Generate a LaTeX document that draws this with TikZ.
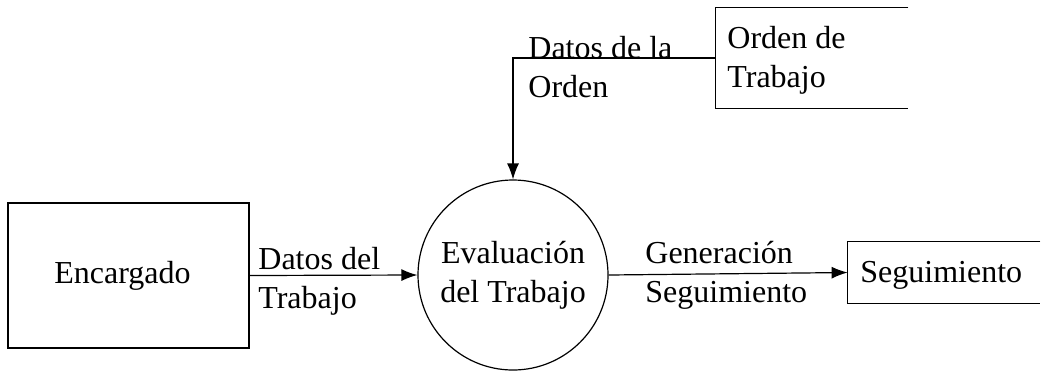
\documentclass[tikz,border=0pt]{standalone}
\usepackage{fontspec}
\setmainfont{Liberation Serif}
\usetikzlibrary{arrows.meta}

\begin{document}
\begin{tikzpicture}[x=0.5pt,y=-0.5pt]
  \tikzset{entidad/.style = {draw, line width=0.6pt, inner sep=0pt},
           texto/.style = {inner sep=0pt, align=left, font=\fontsize{16}{19.5}\selectfont},
           flujo/.style = {line width=0.6pt, -{Latex[length=8pt,width=6pt]}}}
  \useasboundingbox (0,0) rectangle (1042,371);

  \node[entidad, minimum width=120.5pt, minimum height=72.5pt] (enc) at (128.5,275.5) {};
  \node[texto, xshift=-3pt] at (enc) {Encargado};
  \node[entidad, circle, minimum size=95pt, texto, align=center] (eval) at (513,275) {Evaluación\\del Trabajo};

  % almacenes abiertos a la derecha
  \node[minimum width=96pt, minimum height=30.5pt, inner sep=0pt] (seg) at (944,272.5) {};
  \draw[line width=0.6pt] (seg.north east) -- (seg.north west) -- (seg.south west) -- (seg.south east);
  \node[texto, anchor=base west] at (860,282) {Seguimiento};
  \node[minimum width=96pt, minimum height=50pt, inner sep=0pt] (ord) at (812,58) {};
  \draw[line width=0.6pt] (ord.north east) -- (ord.north west) -- (ord.south west) -- (ord.south east);
  \node[texto, anchor=north west] at (727,26) {Orden de\\Trabajo};

  \draw[flujo] (enc.east) -- (eval.west);
  \draw[flujo] (eval.east) -- (seg.west);
  \draw[flujo] (ord.west) -| (eval.north);

  \node[texto, anchor=north west] at (258,247) {Datos del\\Trabajo};
  \node[texto, anchor=north west] at (645,241) {Generación\\Seguimiento};
  \node[texto, anchor=north west] at (528,36) {Datos de la\\Orden};
\end{tikzpicture}
\end{document}
